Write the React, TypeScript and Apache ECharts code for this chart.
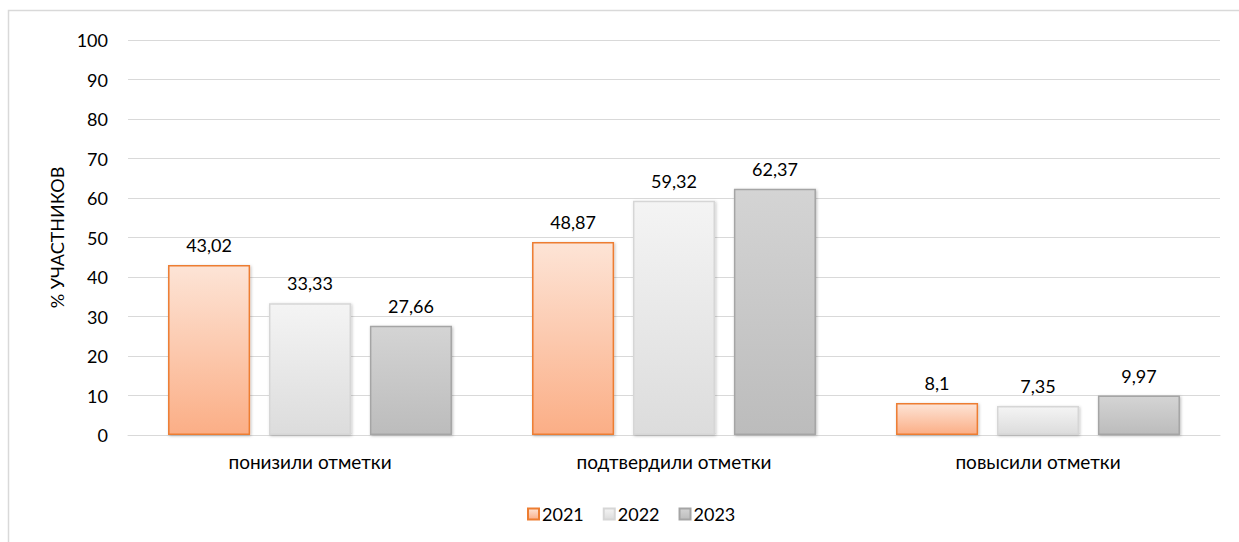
import React, { useEffect, useRef } from "react";
import * as echarts from "echarts";

const categories = ["понизили отметки", "подтвердили отметки", "повысили отметки"];
const years = ["2021", "2022", "2023"];
const values2021 = [43.02, 48.87, 8.1];
const values2022 = [33.33, 59.32, 7.35];
const values2023 = [27.66, 62.37, 9.97];
const yTicks = { min: 0, max: 100, interval: 10 };

const FONT = "Lato, 'Open Sans', sans-serif";

const styles = [
  { top: "#fde4d6", bottom: "#fbae86", border: "#ed7d31" },
  { top: "#f4f4f4", bottom: "#dcdcdc", border: "#d6d6d6" },
  { top: "#d4d4d4", bottom: "#bcbcbc", border: "#a5a5a5" },
];

export default function App() {
  const ref = useRef<HTMLDivElement>(null);
  useEffect(() => {
    if (!ref.current) return;
    const chart = echarts.init(ref.current, null, { renderer: "svg" });
    const data = [values2021, values2022, values2023];
    chart.setOption({
      animation: false,
      backgroundColor: "#ffffff",
      textStyle: { fontFamily: FONT },
      graphic: [
        {
          type: "rect",
          shape: { x: 8.5, y: 10.5, width: 1300, height: 600 },
          style: { fill: "none", stroke: "#d9d9d9", lineWidth: 1.5 },
          silent: true,
        },
      ],
      grid: { left: 128, right: 19, top: 40, bottom: 107, containLabel: false },
      legend: {
        bottom: 14,
        left: 522,
        itemWidth: 11,
        itemHeight: 11,
        itemGap: 19,
        icon: "rect",
        textStyle: { fontFamily: FONT, fontSize: 18, color: "#000", padding: [0, 0, 0, -2] },
        data: years,
      },
      xAxis: {
        type: "category",
        data: categories,
        axisLine: { show: true, lineStyle: { color: "#d9d9d9", width: 1 } },
        axisTick: { show: false },
        axisLabel: { fontFamily: FONT, fontSize: 19, color: "#000", margin: 17 },
      },
      yAxis: {
        type: "value",
        min: yTicks.min,
        max: yTicks.max,
        interval: yTicks.interval,
        name: "% УЧАСТНИКОВ",
        nameLocation: "middle",
        nameGap: 52,
        nameTextStyle: { fontFamily: FONT, fontSize: 18, color: "#000" },
        axisLine: { show: false },
        axisTick: { show: false },
        axisLabel: { fontFamily: FONT, fontSize: 18, color: "#000", margin: 20 },
        splitLine: { lineStyle: { color: "#d9d9d9", width: 1 } },
      },
      series: years.map((y, i) => ({
        name: y,
        type: "bar",
        data: data[i],
        barGap: "23%",
        barCategoryGap: "22%",
        itemStyle: {
          color: new echarts.graphic.LinearGradient(0, 0, 0, 1, [
            { offset: 0, color: styles[i].top },
            { offset: 1, color: styles[i].bottom },
          ]),
          borderColor: styles[i].border,
          borderWidth: 1.5,
          shadowColor: "rgba(0,0,0,0.25)",
          shadowBlur: 3,
          shadowOffsetX: 1,
          shadowOffsetY: 1,
        },
        label: {
          show: true,
          position: "top",
          distance: 11,
          fontFamily: FONT,
          fontSize: 18,
          color: "#000",
          formatter: (p: any) => String(p.value).replace(".", ","),
        },
      })),
    });
    return () => chart.dispose();
  }, []);
  return (
    <div
      ref={ref}
      style={{ position: "fixed", left: 0, top: 0, width: 1239, height: 542 }}
    />
  );
}
